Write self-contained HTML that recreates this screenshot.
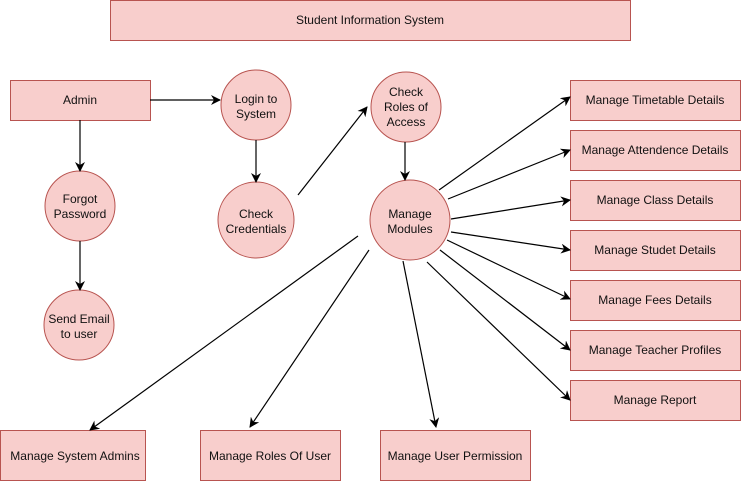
<!DOCTYPE html>
<html><head><style>
body{margin:0;background:#fff;}
svg text{font-family:"Liberation Sans",sans-serif;font-size:12px;fill:#111;text-anchor:middle;}
</style></head><body>
<svg width="741" height="481" viewBox="0 0 741 481" xmlns="http://www.w3.org/2000/svg">
<defs><marker id="a" markerWidth="10" markerHeight="10" refX="9" refY="5" orient="auto" markerUnits="userSpaceOnUse"><path d="M0,0 L10,5 L0,10 L3,5 Z" fill="#000"/></marker></defs>
<g fill="#f8cecc" stroke="#b85450" stroke-width="1">
<rect x="110.5" y="0.5" width="520" height="40"/>
<rect x="10.5" y="80.5" width="140" height="40"/>
<circle cx="256" cy="105" r="35"/>
<circle cx="256" cy="220" r="38"/>
<circle cx="80" cy="206" r="35"/>
<circle cx="79" cy="325" r="35"/>
<circle cx="406" cy="107" r="35"/>
<circle cx="410" cy="220" r="40"/>
<rect x="570.5" y="80.5" width="170" height="40"/>
<rect x="570.5" y="130.5" width="170" height="40"/>
<rect x="570.5" y="180.5" width="170" height="40"/>
<rect x="570.5" y="230.5" width="170" height="40"/>
<rect x="570.5" y="280.5" width="170" height="40"/>
<rect x="570.5" y="330.5" width="170" height="40"/>
<rect x="570.5" y="380.5" width="170" height="40"/>
<rect x="0.5" y="430.5" width="145" height="50"/>
<rect x="200.5" y="430.5" width="140" height="50"/>
<rect x="380.5" y="430.5" width="150" height="50"/>
</g>
<g stroke="#000" stroke-width="1.2" fill="none" marker-end="url(#a)">
<line x1="150" y1="100" x2="220" y2="100"/>
<line x1="80" y1="120" x2="80" y2="171"/>
<line x1="80" y1="241" x2="80" y2="290"/>
<line x1="256" y1="140" x2="256" y2="182"/>
<line x1="298" y1="195" x2="367" y2="107"/>
<line x1="405" y1="142" x2="405" y2="180"/>
<line x1="439" y1="190" x2="570" y2="97"/>
<line x1="448" y1="199" x2="570" y2="150"/>
<line x1="451" y1="219" x2="570" y2="200"/>
<line x1="451" y1="232" x2="570" y2="250"/>
<line x1="447" y1="240" x2="570" y2="299"/>
<line x1="440" y1="250" x2="570" y2="350"/>
<line x1="427" y1="262" x2="570" y2="400"/>
<line x1="358" y1="236" x2="90" y2="430"/>
<line x1="369" y1="250" x2="250" y2="427"/>
<line x1="403" y1="261" x2="436" y2="427"/>
</g>
<text x="370" y="24">Student Information System</text>
<text x="80" y="104">Admin</text>
<text x="256" y="103">Login to</text><text x="256" y="118">System</text>
<text x="256" y="218">Check</text><text x="256" y="233">Credentials</text>
<text x="80" y="203">Forgot</text><text x="80" y="218">Password</text>
<text x="79" y="323">Send Email</text><text x="79" y="338">to user</text>
<text x="406" y="96">Check</text><text x="406" y="111">Roles of</text><text x="406" y="126">Access</text>
<text x="410" y="218">Manage</text><text x="410" y="233">Modules</text>
<text x="655" y="104">Manage Timetable Details</text>
<text x="655" y="154">Manage Attendence Details</text>
<text x="655" y="204">Manage Class Details</text>
<text x="655" y="254">Manage Studet Details</text>
<text x="655" y="304">Manage Fees Details</text>
<text x="655" y="354">Manage Teacher Profiles</text>
<text x="655" y="404">Manage Report</text>
<text x="75" y="460">Manage System Admins</text>
<text x="270" y="460">Manage Roles Of User</text>
<text x="455" y="460">Manage User Permission</text>
</svg>
</body></html>
